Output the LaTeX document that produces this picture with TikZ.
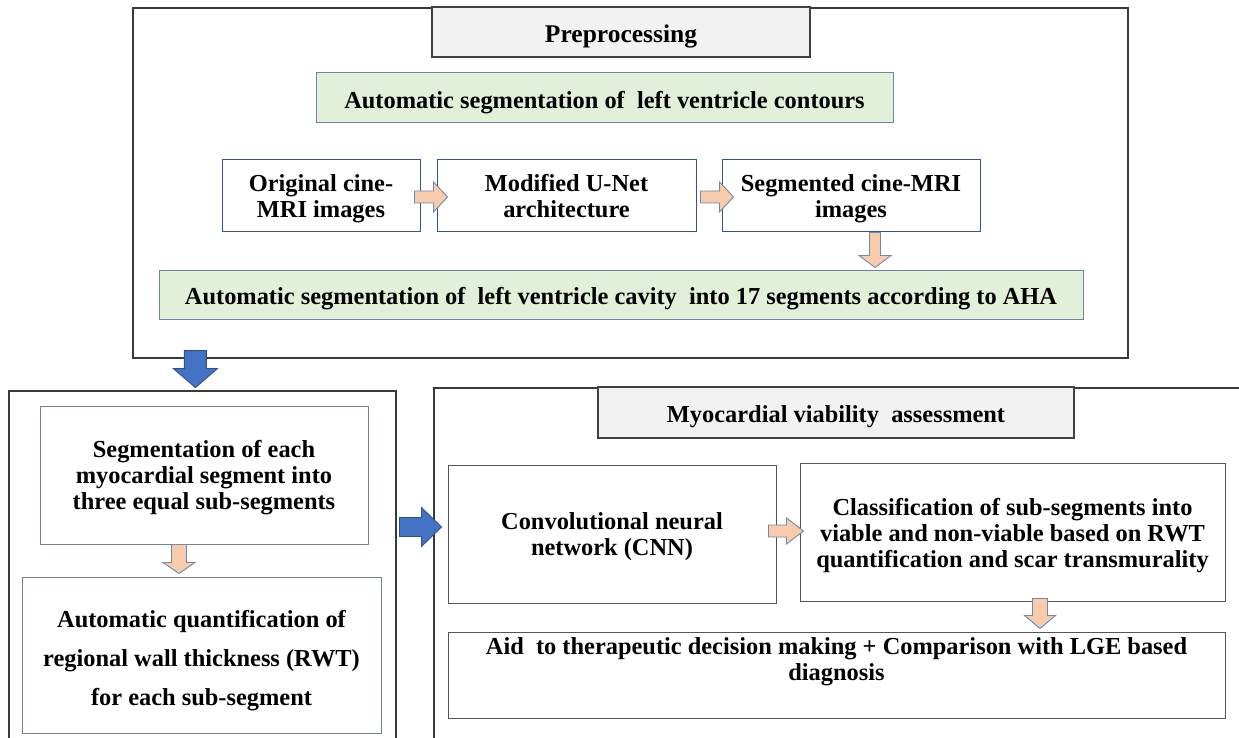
\documentclass[tikz,border=0pt]{standalone}
\usepackage{fontspec}
\setmainfont{Liberation Serif}
\usetikzlibrary{calc}
\definecolor{outerc}{HTML}{3A3A3A}
\definecolor{titlefill}{HTML}{F2F2F2}
\definecolor{titledraw}{HTML}{404040}
\definecolor{greenfill}{HTML}{E2EFD9}
\definecolor{greendraw}{HTML}{6C84A8}
\definecolor{cinedraw}{HTML}{2F5597}
\definecolor{leftdraw}{HTML}{71829A}
\definecolor{rightdraw}{HTML}{555555}
\definecolor{orfill}{HTML}{F8CBAD}
\definecolor{ordraw}{HTML}{7189AB}
\definecolor{blfill}{HTML}{4472C4}
\definecolor{bldraw}{HTML}{2F528F}
\newcommand{\blkR}[6]{%
  \draw[#1] ($(#2)+(0,-#4)$) -- ++({#3-#6},0) -- ++(0,{#4-#5}) -- ++(#6,#5)
    -- ++(-#6,#5) -- ++(0,{#4-#5}) -- ++({#6-#3},0) -- cycle;}
\newcommand{\blkD}[6]{%
  \draw[#1] ($(#2)+(-#4,0)$) -- ++(0,{#3-#6}) -- ++({#4-#5},0) -- ++(#5,#6)
    -- ++(#5,-#6) -- ++({#4-#5},0) -- ++(0,{#6-#3}) -- cycle;}
\newcommand{\topstrut}[1]{\rule{0pt}{#1pt}}
\tikzset{
  txt/.style={font=\fontsize{24.4}{26}\selectfont\bfseries, align=center, text=black,
    execute at begin node={\rule{0pt}{26pt}}},
  outerbox/.style={draw=outerc, line width=1.2pt, inner sep=0pt},
  titlebox/.style={txt, draw=titledraw, fill=titlefill, line width=1.2pt, inner sep=0pt},
  greenbox/.style={txt, draw=greendraw, fill=greenfill, line width=1pt, inner sep=0pt},
  cinebox/.style={txt, draw=cinedraw, fill=white, line width=1pt, inner sep=0pt},
  leftbox/.style={txt, draw=leftdraw, fill=white, line width=1pt, inner sep=0pt},
  rightbox/.style={txt, draw=rightdraw, fill=white, line width=1pt, inner sep=0pt},
  orarrow/.style={fill=orfill, draw=ordraw, line width=0.9pt, line join=miter},
  blarrow/.style={fill=blfill, draw=bldraw, line width=0.9pt, line join=miter},
}
\begin{document}
\begin{tikzpicture}[x=1pt,y=-1pt]
\useasboundingbox (0,0) rectangle (1239,738);
\fill[white] (0,0) rectangle (1239,738);
\clip (0,0) rectangle (1239,738);
% containers
\node[outerbox, minimum width=995, minimum height=350] (prebox) at (630.5,183) {};
\node[outerbox, minimum width=387, minimum height=369] (leftouter) at (202.5,575.5) {};
\node[outerbox, minimum width=826, minimum height=372] (rightouter) at (847,574) {};
% preprocessing
\node[titlebox, minimum width=378, minimum height=50, font=\fontsize{25.5}{26}\selectfont\bfseries] (pretitle) at (621,32) {Preprocessing};
\node[greenbox, minimum width=577, minimum height=50] (green1) at (604.5,98) {Automatic segmentation of~ left ventricle contours};
\node[cinebox, minimum width=198, minimum height=71] (orig) at (321,195.5) {\topstrut{24}Original cine-\\MRI images};
\node[cinebox, minimum width=259, minimum height=71] (unet) at (566.5,195.5) {\topstrut{19}Modified U-Net\\architecture};
\node[cinebox, minimum width=258, minimum height=71] (segm) at (851,195.5) {\topstrut{24}Segmented cine-MRI\\images};
\node[greenbox, minimum width=924, minimum height=49] (green2) at (621,294.5) {Automatic segmentation of~ left ventricle cavity~ into 17 segments according to AHA};
% left column
\node[leftbox, minimum width=328, minimum height=138] (subseg) at (204,475) {\topstrut{23}Segmentation of each\\myocardial segment into\\three equal sub-segments};
\node[leftbox, minimum width=359, minimum height=156, font=\fontsize{24.4}{39}\selectfont\bfseries] (rwt) at (201.5,655) {\topstrut{29}Automatic quantification of\\regional wall thickness (RWT)\\for each sub-segment};
% right column
\node[titlebox, minimum width=476, minimum height=51] (viatitle) at (836,412.5) {Myocardial viability~ assessment};
\node[rightbox, minimum width=328, minimum height=138] (cnn) at (612,534) {\topstrut{23}Convolutional neural\\network (CNN)};
\node[rightbox, minimum width=425, minimum height=138] (classif) at (1012.5,532) {\topstrut{24}Classification of sub-segments into\\viable and non-viable based on RWT\\quantification and scar transmurality};
\node[rightbox, minimum width=777, minimum height=86] (aid) at (836.5,675) {};
\node[txt, inner sep=0pt] (aidtext) at (836.5,662) {Aid~ to therapeutic decision making + Comparison with LGE based\\diagnosis};
% block arrows
\blkR{orarrow}{$(orig.east)+(-6,1.5)$}{33}{6}{15}{14}
\blkR{orarrow}{$(unet.east)+(4,1.5)$}{33}{6}{15}{14}
\blkD{orarrow}{$(segm.south)+(24,1)$}{35}{5.5}{16}{12}
\blkD{blarrow}{$(prebox.south west)+(63,-8)$}{37}{11}{22}{19}
\blkD{orarrow}{$(subseg.south)+(-25,0)$}{29}{7.5}{16}{11}
\blkR{blarrow}{$(cnn.west)+(-48,-7)$}{42}{9.5}{19.5}{20}
\blkR{orarrow}{$(cnn.east)+(-8,-3)$}{35}{6}{13}{17}
\blkD{orarrow}{$(classif.south)+(27.5,-3)$}{30}{7.5}{15.5}{13}
\end{tikzpicture}
\end{document}
